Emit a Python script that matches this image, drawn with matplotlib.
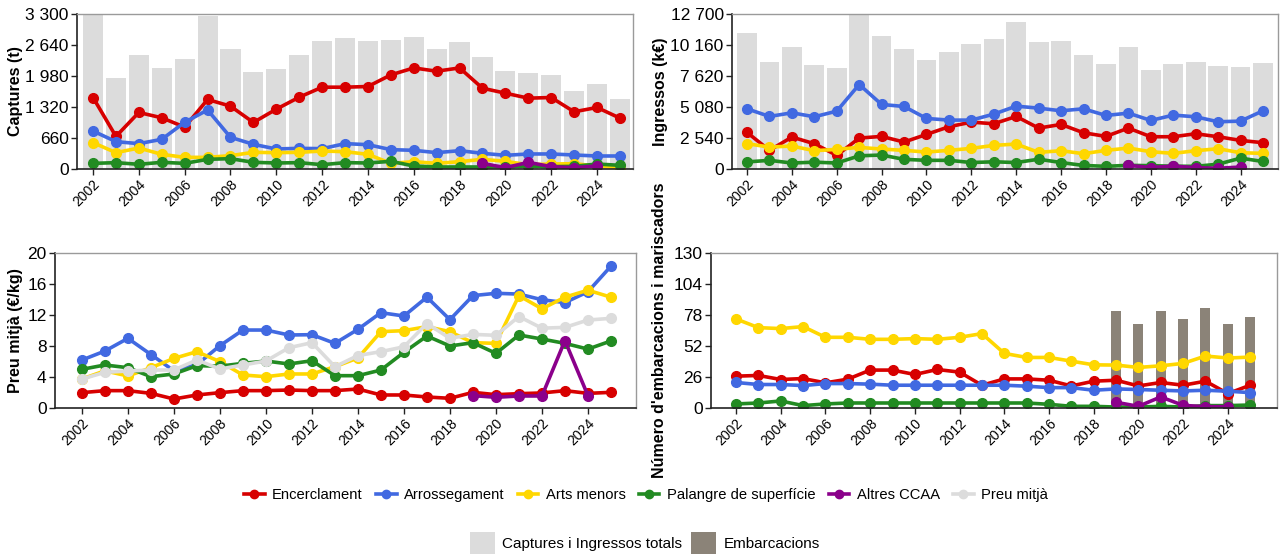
import matplotlib
matplotlib.use("Agg")
import matplotlib.pyplot as plt
from matplotlib.lines import Line2D
from matplotlib.patches import Patch
from matplotlib.ticker import FixedLocator

plt.rcParams['font.family'] = ['Liberation Sans', 'DejaVu Sans']

years = list(range(2002, 2026))
years_cc = list(range(2019, 2025))
years_emb = list(range(2019, 2026))

# Captures (t)
cap_total = [3290, 1933, 2421, 2152, 2336, 3257, 2563, 2067, 2138, 2436, 2733, 2782,
             2733, 2740, 2818, 2556, 2705, 2386, 2089, 2046, 1997, 1671, 1820, 1494]
cap_enc = [1522, 694, 1204, 1090, 892, 1480, 1338, 991, 1274, 1529, 1742, 1742,
           1756, 2004, 2152, 2082, 2152, 1720, 1614, 1508, 1522, 1218, 1310, 1083]
cap_arr = [809, 582, 540, 632, 994, 1257, 675, 525, 426, 440, 433, 540,
           518, 412, 398, 348, 390, 334, 291, 320, 320, 298, 277, 277]
cap_art = [561, 348, 447, 312, 248, 248, 284, 355, 348, 355, 383, 369,
           312, 120, 156, 120, 156, 206, 163, 92, 106, 113, 64, 28]
cap_pal = [120, 135, 100, 142, 120, 206, 220, 142, 128, 135, 92, 135,
           128, 163, 64, 43, 43, 43, 50, 64, 50, 57, 106, 78]
cap_cc = [120, 28, 142, 50, 28, 64]

# Ingressos (k€)
ing_total = [11173, 8802, 9974, 8502, 8257, 12700, 10927, 9865, 8965, 9592, 10219, 10655,
             12045, 10382, 10464, 9320, 8638, 10001, 8093, 8611, 8747, 8420, 8393, 8666]
ing_enc = [2998, 1526, 2616, 2071, 1117, 2534, 2671, 2207, 2834, 3461, 3842, 3706,
           4306, 3352, 3652, 2970, 2671, 3352, 2643, 2643, 2889, 2643, 2344, 2153]
ing_arr = [4932, 4306, 4605, 4278, 4742, 6922, 5287, 5123, 4142, 4006, 4006, 4496,
           5150, 4987, 4769, 4932, 4387, 4578, 3979, 4415, 4278, 3870, 3924, 4769]
ing_art = [2071, 1799, 1880, 1499, 1608, 1771, 1635, 1526, 1390, 1526, 1690, 1935,
           2044, 1363, 1499, 1254, 1526, 1717, 1417, 1281, 1499, 1662, 1335, 1281]
ing_pal = [580, 710, 490, 560, 490, 1080, 1145, 790, 710, 710, 530, 590,
           530, 800, 530, 290, 220, 300, 273, 230, 218, 395, 890, 615]
ing_cc = [300, 120, 240, 110, 60, 160]

# Preu mitjà (€/kg)
pre_enc = [1.98, 2.24, 2.24, 1.89, 1.16, 1.68, 1.98, 2.24, 2.24, 2.32, 2.24, 2.24,
           2.45, 1.68, 1.68, 1.42, 1.25, 2.02, 1.72, 1.85, 1.94, 2.24, 1.89, 2.02]
pre_arr = [6.19, 7.35, 8.99, 6.9, 4.8, 5.6, 8.04, 10.06, 10.06, 9.42, 9.46, 8.34,
           10.15, 12.3, 11.87, 14.3, 11.4, 14.5, 14.8, 14.7, 13.97, 13.6, 15.0, 18.3]
pre_art = [3.74, 4.8, 4.13, 5.2, 6.4, 7.27, 5.98, 4.26, 4.04, 4.39, 4.39, 5.33,
           6.45, 9.85, 9.98, 10.5, 9.85, 8.43, 8.34, 14.5, 12.8, 14.3, 15.2, 14.3]
pre_pal = [4.99, 5.55, 5.2, 4.04, 4.39, 5.46, 5.4, 5.76, 6.06, 5.68, 6.1, 4.17,
           4.17, 4.9, 7.18, 9.29, 8.0, 8.43, 7.05, 9.42, 8.9, 8.34, 7.6, 8.65]
pre_cc = [1.6, 1.38, 1.55, 1.55, 8.69, 1.6]
pre_mit = [3.74, 4.6, 4.77, 4.9, 4.9, 6.2, 5.03, 5.55, 6.06, 7.78, 8.43, 5.33,
           6.77, 7.27, 7.9, 10.9, 8.99, 9.5, 9.38, 11.8, 10.3, 10.4, 11.35, 11.57]

# Número d'embarcacions i mariscadors
num_enc = [26.7, 27.3, 23.9, 24.7, 21.1, 24.2, 31.8, 31.8, 28.1, 32.3, 30.1, 19.1,
           24.4, 24.4, 23.3, 18.5, 22.5, 23.3, 18.5, 21.4, 19.1, 22.5, 12.1, 19.1]
num_arr = [21.4, 19.7, 19.7, 18.8, 20.5, 20.5, 20.0, 19.1, 19.1, 19.1, 19.1, 19.1,
           19.1, 18.3, 17.1, 17.1, 14.9, 16.0, 15.5, 14.9, 14.3, 14.9, 14.1, 12.9]
num_art = [74.7, 67.4, 66.6, 68.3, 59.3, 59.3, 57.6, 57.6, 58.2, 57.6, 59.3, 62.4,
           45.8, 42.4, 42.4, 39.3, 36.2, 36.0, 34.0, 35.4, 37.4, 43.6, 41.9, 42.7]
num_pal = [3.4, 4.2, 5.9, 2.0, 3.4, 4.2, 4.2, 4.2, 4.2, 4.2, 4.2, 4.2,
           4.2, 4.2, 3.1, 1.4, 1.4, 0.8, 0.8, 1.4, 0.8, 2.0, 2.0, 2.5]
num_cc = [4.8, 1.4, 9.3, 2.2, 1.1, 1.1]
emb_total = [81.5, 70.3, 81.5, 74.5, 83.7, 70.3, 76.4]

x_ticks = list(range(2002, 2025, 2))

C_RED = '#D70000'
C_BLUE = '#4169E1'
C_YEL = '#FFD700'
C_GRN = '#228B22'
C_PUR = '#8B008B'
C_LGR = '#DCDCDC'
C_BAR = '#DCDCDC'
C_EMB = '#8B8378'

W, H = 1284, 558
fig = plt.figure(figsize=(W / 100, H / 100), dpi=100)


def ax_at(l, r, t, b):
    return fig.add_axes([l / W, 1 - b / H, (r - l) / W, (b - t) / H])


def style(ax, ymax, ylabel, yticks, yticklabels, xlim, label_x):
    ax.set_xlim(*xlim)
    ax.set_ylim(0, ymax)
    ax.yaxis.set_major_locator(FixedLocator(yticks))
    ax.set_yticklabels(yticklabels, fontsize=12.5)
    ax.set_xticks(x_ticks)
    ax.set_xticklabels([str(y) for y in x_ticks], rotation=45, ha='right',
                       rotation_mode='anchor', fontsize=10)
    ax.set_ylabel(ylabel, fontsize=11.5, fontweight='bold')
    ax.yaxis.set_label_coords(label_x, 0.5)
    for s in ['left', 'bottom']:
        ax.spines[s].set_color('#222222')
        ax.spines[s].set_linewidth(1.2)
    for s in ['top', 'right']:
        ax.spines[s].set_color('#9a9a9a')
        ax.spines[s].set_linewidth(1.0)
    ax.tick_params(axis='both', length=4, width=1, color='#222222', pad=2)


lkw = dict(linewidth=2.6, marker='o', markersize=7)


def lines(ax, series):
    for xs, ys, c in series:
        ax.plot(xs, ys, color=c, **lkw)


# Top-left: Captures
ax1 = ax_at(77, 633, 14, 169)
ax1.bar(years, cap_total, width=0.88, color=C_BAR, zorder=0)
lines(ax1, [(years, cap_enc, C_RED), (years, cap_arr, C_BLUE), (years, cap_art, C_YEL),
            (years, cap_pal, C_GRN), (years_cc, cap_cc, C_PUR)])
t1 = [0, 660, 1320, 1980, 2640, 3300]
style(ax1, 3300, 'Captures (t)', t1, ['0', '660', '1 320', '1 980', '2 640', '3 300'],
      (2001.30, 2025.57), (23 - 77) / 556)

# Top-right: Ingressos
ax2 = ax_at(732, 1278, 14, 169)
ax2.bar(years, ing_total, width=0.88, color=C_BAR, zorder=0)
lines(ax2, [(years, ing_enc, C_RED), (years, ing_arr, C_BLUE), (years, ing_art, C_YEL),
            (years, ing_pal, C_GRN), (years_cc, ing_cc, C_PUR)])
t2 = [0, 2540, 5080, 7620, 10160, 12700]
style(ax2, 12700, 'Ingressos (k€)', t2, ['0', '2 540', '5 080', '7 620', '10 160', '12 700'],
      (2001.33, 2025.67), (668 - 732) / 546)

# Bottom-left: Preu mitjà
ax3 = ax_at(55, 636, 253, 408)
lines(ax3, [(years, pre_enc, C_RED), (years, pre_arr, C_BLUE), (years, pre_art, C_YEL),
            (years, pre_pal, C_GRN), (years_cc, pre_cc, C_PUR), (years, pre_mit, C_LGR)])
t3 = [0, 4, 8, 12, 16, 20]
style(ax3, 20, 'Preu mitjà (€/kg)', t3, [str(v) for v in t3], (2000.83, 2026.09),
      (23 - 55) / 581)

# Bottom-right: Número
ax4 = ax_at(711, 1277, 253, 408)
ax4.bar(years_emb, emb_total, width=0.45, color=C_EMB, zorder=0)
lines(ax4, [(years, num_enc, C_RED), (years, num_arr, C_BLUE), (years, num_art, C_YEL),
            (years, num_pal, C_GRN), (years_cc, num_cc, C_PUR)])
t4 = [0, 26, 52, 78, 104, 130]
style(ax4, 130, "Número d'embarcacions i mariscadors", t4, [str(v) for v in t4],
      (2000.88, 2026.2), (667 - 711) / 566)

# Legends
names = ['Encerclament', 'Arrossegament', 'Arts menors', 'Palangre de superfície',
         'Altres CCAA', 'Preu mitjà']
cols = [C_RED, C_BLUE, C_YEL, C_GRN, C_PUR, C_LGR]
handles = [Line2D([], [], color=c, linewidth=2.6, marker='o', markersize=6) for c in cols]
fig.legend(handles, names, loc='center', bbox_to_anchor=(646 / W, 1 - 495 / H),
           ncol=6, frameon=False, fontsize=10.6, handlelength=1.4, handletextpad=0.5,
           columnspacing=0.9)

phandles = [Patch(facecolor=C_BAR), Patch(facecolor=C_EMB)]
fig.legend(phandles, ['Captures i Ingressos totals', 'Embarcacions'], loc='center',
           bbox_to_anchor=(645 / W, 1 - 543 / H), ncol=2, frameon=False, fontsize=11,
           handlelength=1.6, handleheight=1.9, handletextpad=0.5, columnspacing=0.6)

fig.savefig('out.png', dpi=100)
